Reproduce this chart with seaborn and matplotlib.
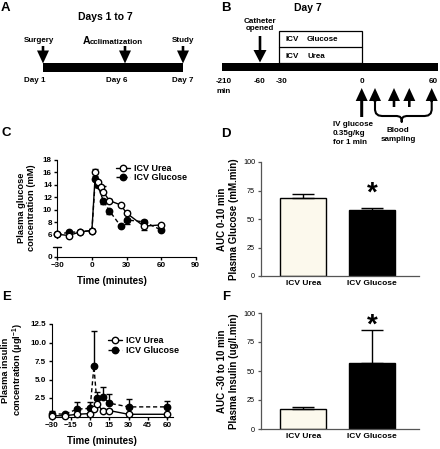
import numpy as np
import pandas as pd
import seaborn as sns
import matplotlib.pyplot as plt
from matplotlib.patches import Rectangle, Polygon

sns.set_style('ticks')
plt.rcParams['font.family'] = ['Liberation Sans', 'DejaVu Sans']
plt.rcParams['font.weight'] = 'bold'
plt.rcParams['mathtext.fontset'] = 'custom'
plt.rcParams['mathtext.rm'] = 'Liberation Sans:bold'
plt.rcParams['mathtext.default'] = 'rm'
plt.rcParams['text.color'] = 'black'
plt.rcParams['axes.edgecolor'] = 'black'
plt.rcParams['xtick.color'] = 'black'
plt.rcParams['ytick.color'] = 'black'

W, H = 440, 449

# ---- data -------------------------------------------------------------
# C: plasma glucose (mM); signed SEM: + drawn above, - drawn below
glc_t_urea = [-30, -20, -10, 0, 3, 5, 8, 10, 15, 25, 30, 45, 60]
glc_urea = [6.1, 5.9, 6.5, 6.7, 16.0, 14.4, 13.6, 12.9, 11.5, 10.8, 9.5, 7.4, 7.6]
glc_urea_sem = [0.2, 0.1, 0.2, 0.2, 0.6, 0.3, 0.3, 0.9, 0.3, 0.2, 0.4, -0.6, 0.2]
glc_t_gluc = [-30, -20, -10, 0, 3, 5, 10, 15, 25, 30, 45, 60]
glc_gluc = [6.1, 6.4, 6.5, 6.7, 15.0, 14.0, 11.4, 9.9, 7.4, 8.4, 8.1, 6.8]
glc_gluc_sem = [0.2, 0.1, 0.2, 0.2, 0.4, -0.4, -0.5, -0.6, 0.2, -0.6, 0.3, 0.2]

# E: plasma insulin (ug/l)
ins_t = [-30, -20, -10, 0, 3, 5, 10, 15, 30, 60]
ins_urea = [0.1, 0.1, 0.3, 0.4, 1.0, 1.7, 0.8, 0.8, 0.3, 0.3]
ins_urea_sem = [0.1, 0.1, 0.1, 0.1, 0.3, 0.5, 0.2, 0.2, 0.1, 0.1]
ins_gluc = [0.4, 0.3, 1.0, 1.1, 6.8, 2.5, 2.7, 1.8, 1.3, 1.3]
ins_gluc_sem = [0.3, 0.1, 1.0, 0.8, 4.7, 0.8, 1.3, 1.3, 1.0, 0.8]

# D / F: AUC bars
groups = ['ICV Urea', 'ICV Glucose']
auc_glc = [68.5, 58.0]
auc_glc_sem = [3.0, 1.5]
auc_ins = [17.0, 57.0]
auc_ins_sem = [2.3, 28.5]
bar_colors = {'ICV Urea': '#FFFBEA', 'ICV Glucose': '#000000'}

# A / B schematic labels
a_events = ['Surgery', 'Acclimatization', 'Study']
a_days = ['Day 1', 'Day 6', 'Day 7']
b_ticks = ['-210', '-60', '-30', '0', '60']


def px_rect(l, t, r, b):
    return [l / W, 1 - b / H, (r - l) / W, (b - t) / H]


def split_err(sem):
    sem = np.asarray(sem, dtype=float)
    return [np.where(sem < 0, -sem, 0), np.where(sem > 0, sem, 0)]


def arrow(ax, x, tail, tip, head=13, hw=12, sw=2.6):
    d = 1 if tip > tail else -1
    base = tip - d * head
    pts = [(x - sw / 2, tail), (x + sw / 2, tail), (x + sw / 2, base), (x + hw / 2, base),
           (x, tip), (x - hw / 2, base), (x - sw / 2, base)]
    ax.add_patch(Polygon(pts, closed=True, color='black', lw=0))


fig = plt.figure(figsize=(4.4, 4.49), dpi=100)

# ---- overlay for schematics and panel letters ---------------------------
ov = fig.add_axes([0, 0, 1, 1])
ov.set_xlim(0, W)
ov.set_ylim(H, 0)
ov.axis('off')

for lab, (x, y) in zip('ABCDEF', [(1, 8), (221, 8), (2, 133), (221, 134), (2, 297), (222, 297)]):
    ov.text(x, y, lab, fontsize=9.5, ha='left', va='center')

# A
ov.text(105, 16.5, 'Days 1 to 7', fontsize=7.5, ha='center', va='center')
ov.add_patch(Rectangle((42.7, 63.3), 140, 8.4, color='black', lw=0))
a_x = [43, 125, 183]
a_lab_x = [39.5, 113, 183]
for x, lx, ev in zip(a_x, a_lab_x, a_events):
    arrow(ov, x, 46, 63.5)
    if ev == 'Acclimatization':
        # large leading capital as in the original artwork
        cap = ov.text(82.5, 43.5, ev[0], fontsize=7.6, ha='left', va='baseline')
        ov.annotate(ev[1:], xy=(1, 0), xycoords=cap, fontsize=5.8, ha='left', va='bottom')
    else:
        ov.text(lx, 40, ev, fontsize=5.8, ha='center', va='center')
for x, d in zip([35, 117, 183], a_days):
    ov.text(x, 81, d, fontsize=5.8, ha='center', va='center')

# B
ov.text(308, 8.3, 'Day 7', fontsize=7.5, ha='center', va='center')
ov.text(260, 25, 'Catheter\nopened', fontsize=5.8, ha='center', va='center', linespacing=1.15)
arrow(ov, 260, 36, 62.5, head=12.5, hw=13)
ov.add_patch(Rectangle((279.3, 31), 82.4, 32.3, fill=False, ec='black', lw=0.9))
ov.plot([279.3, 361.7], [47.3, 47.3], color='black', lw=0.9)
ov.text(285, 39.3, 'ICV', fontsize=5.8, ha='left', va='center')
ov.text(307, 39.3, 'Glucose', fontsize=5.8, ha='left', va='center')
ov.text(285, 56, 'ICV', fontsize=5.8, ha='left', va='center')
ov.text(307, 56, 'Urea', fontsize=5.8, ha='left', va='center')
ov.add_patch(Rectangle((221.7, 63.3), 216, 7.7, color='black', lw=0))
for x, t in zip([224, 260, 282, 361.7, 433], b_ticks):
    ov.text(x, 81.7, t, fontsize=5.8, ha='center', va='center')
ov.text(224, 91.7, 'min', fontsize=5.8, ha='center', va='center')
arrow(ov, 361.7, 117, 88, head=13, hw=12, sw=3)
for x, tail in zip([375, 394, 409.3, 431.7], [102, 107, 107, 102]):
    arrow(ov, x, tail, 88, head=13, hw=12, sw=2.6)
brace_x = [375, 375, 376, 378.5, 382, 397, 400, 401.4, 401.7,
           402, 403.4, 406.4, 409.4, 424.7, 428.2, 430.7, 431.7, 431.7]
brace_y = [101, 110, 113.4, 115.4, 116, 116, 116.8, 118.6, 122,
           118.6, 116.8, 116, 116, 116, 115.4, 113.4, 110, 101]
ov.plot(brace_x, brace_y, color='black', lw=1.5, solid_joinstyle='round', solid_capstyle='butt')
ov.text(332.7, 133.5, 'IV glucose\n0.35g/kg\nfor 1 min', fontsize=5.8, ha='left', va='center',
        linespacing=1.3)
ov.text(398.3, 135, 'Blood\nsampling', fontsize=5.8, ha='center', va='center', linespacing=1.3)

# ---- C: glucose time course (broken axis) ------------------------------
ax_c = fig.add_axes(px_rect(57.3, 160, 195.7, 238))
ax_c0 = fig.add_axes(px_rect(57.3, 247, 195.7, 256.5))

ax_c.errorbar(glc_t_urea, glc_urea, yerr=split_err(glc_urea_sem), fmt='none', ecolor='black',
              elinewidth=1, capsize=2.5, capthick=1, zorder=2, clip_on=False)
ax_c.errorbar(glc_t_gluc, glc_gluc, yerr=split_err(glc_gluc_sem), fmt='none', ecolor='black',
              elinewidth=1, capsize=2.5, capthick=1, zorder=2, clip_on=False)
sns.lineplot(x=glc_t_urea, y=glc_urea, ax=ax_c, color='black', lw=1, marker='o', ms=4.6,
             mfc='white', mec='black', mew=1, errorbar=None, label='ICV Urea', clip_on=False, zorder=4)
sns.lineplot(x=glc_t_gluc, y=glc_gluc, ax=ax_c, color='black', lw=1, ls=(0, (3, 2)), marker='o',
             ms=4.6, mfc='black', mec='black', mew=1, errorbar=None, label='ICV Glucose',
             clip_on=False, zorder=3)
ax_c.set_xlim(-30, 90)
ax_c.set_ylim(5.5, 18)
ax_c.set_yticks(range(6, 19, 2))
ax_c.set_xticks([])
for s in ['top', 'right', 'bottom']:
    ax_c.spines[s].set_visible(False)
ax_c.patch.set_alpha(0)
ax_c.legend(loc='upper left', bbox_to_anchor=(116 / W, 1 - 164 / H), bbox_transform=fig.transFigure,
            frameon=False, prop={'weight': 'bold', 'size': 6.5}, handlelength=1.6,
            handletextpad=0.35, labelspacing=0.05, borderpad=0, borderaxespad=0)

ax_c0.set_xlim(-30, 90)
ax_c0.set_ylim(0, 1.5)
ax_c0.set_yticks([0])
ax_c0.set_xticks([-30, 0, 30, 60, 90])
for s in ['top', 'right']:
    ax_c0.spines[s].set_visible(False)
ax_c0.plot([-0.03, 0.03], [1, 1], transform=ax_c0.transAxes, color='black', lw=1, clip_on=False)
ax_c0.patch.set_alpha(0)

# ---- E: insulin time course -------------------------------------------
ax_e = fig.add_axes(px_rect(51.7, 324, 173.3, 416.5))
ax_e.errorbar(ins_t, ins_urea, yerr=split_err(ins_urea_sem), fmt='none', ecolor='black',
              elinewidth=1, capsize=2.5, capthick=1, zorder=2, clip_on=False)
ax_e.errorbar(ins_t, ins_gluc, yerr=split_err(ins_gluc_sem), fmt='none', ecolor='black',
              elinewidth=1, capsize=2.5, capthick=1, zorder=2, clip_on=False)
sns.lineplot(x=ins_t, y=ins_urea, ax=ax_e, color='black', lw=1, marker='o', ms=4.6,
             mfc='white', mec='black', mew=1, errorbar=None, label='ICV Urea', clip_on=False, zorder=4)
sns.lineplot(x=ins_t, y=ins_gluc, ax=ax_e, color='black', lw=1, ls=(0, (3, 2)), marker='o',
             ms=4.6, mfc='black', mec='black', mew=1, errorbar=None, label='ICV Glucose',
             clip_on=False, zorder=3)
ax_e.set_xlim(-30, 65)
ax_e.set_ylim(0, 12.5)
ax_e.set_yticks([2.5, 5, 7.5, 10, 12.5])
ax_e.set_yticklabels(['2.5', '5.0', '7.5', '10.0', '12.5'])
ax_e.set_xticks([-30, -15, 0, 15, 30, 45, 60])
for s in ['top', 'right']:
    ax_e.spines[s].set_visible(False)
ax_e.patch.set_alpha(0)
ax_e.legend(loc='upper left', bbox_to_anchor=(108 / W, 1 - 336 / H), bbox_transform=fig.transFigure,
            frameon=False, prop={'weight': 'bold', 'size': 6.5}, handlelength=1.6,
            handletextpad=0.35, labelspacing=0.15, borderpad=0, borderaxespad=0)

for ax in [ax_c, ax_c0, ax_e]:
    ax.tick_params(labelsize=5.8, length=2.4, width=1, pad=1.5)

fig.text(26.7 / W, 1 - 208 / H, 'Plasma glucose\nconcentration (mM)', rotation=90, fontsize=6.7,
         ha='center', va='center', linespacing=1.1)
fig.text(112 / W, 1 - 281 / H, 'Time (minutes)', fontsize=7, ha='center', va='center')
fig.text(13.3 / W, 1 - 370 / H, 'Plasma insulin\nconcentration (µgl$^{-1}$)', rotation=90,
         fontsize=6.7, ha='center', va='center', linespacing=1.1)
fig.text(101.7 / W, 1 - 441.5 / H, 'Time (minutes)', fontsize=7, ha='center', va='center')

# ---- D / F: AUC bars ---------------------------------------------------
def auc_panel(rect, vals, sems, star_y, ylabel, label_y):
    ax = fig.add_axes(px_rect(*rect))
    df = pd.DataFrame({'group': groups, 'auc': vals})
    sns.barplot(data=df, x='group', y='auc', hue='group', palette=bar_colors, width=0.67,
                edgecolor='black', linewidth=1, errorbar=None, legend=False, ax=ax)
    ax.errorbar([0, 1], vals, yerr=[[0, 0], sems], fmt='none', ecolor='black', elinewidth=1,
                capsize=8, capthick=1, zorder=5)
    ax.text(1, star_y, '*', fontsize=20, ha='center', va='baseline')
    ax.set_xlim(-0.62, 1.68)
    ax.set_ylim(0, 100)
    ax.set_yticks([0, 25, 50, 75, 100])
    ax.set_xlabel('')
    ax.set_ylabel('')
    for s in ['top', 'right']:
        ax.spines[s].set_visible(False)
    for s in ['left', 'bottom']:
        ax.spines[s].set_color('#555555')
        ax.spines[s].set_linewidth(0.9)
    ax.tick_params(axis='y', labelsize=5.2, length=2.4, width=0.9, color='#555555', pad=1.5)
    ax.tick_params(axis='x', labelsize=6, length=0, pad=3)
    for t in ax.get_yticklabels():
        t.set_fontweight('normal')
    ax.patch.set_alpha(0)
    fig.text(227.5 / W, 1 - label_y / H, ylabel, rotation=90, fontsize=7, ha='center',
             va='center', linespacing=1.25)
    return ax


auc_panel((260.5, 162, 419, 276), auc_glc, auc_glc_sem, 66,
          'AUC 0-10 min\nPlasma Glucose (mM.min)', 219)
auc_panel((260.5, 313, 419, 429), auc_ins, auc_ins_sem, 83,
          'AUC -30 to 10 min\nPlasma Insulin (ug/l.min)', 371)

fig.savefig('out.png', dpi=100)
